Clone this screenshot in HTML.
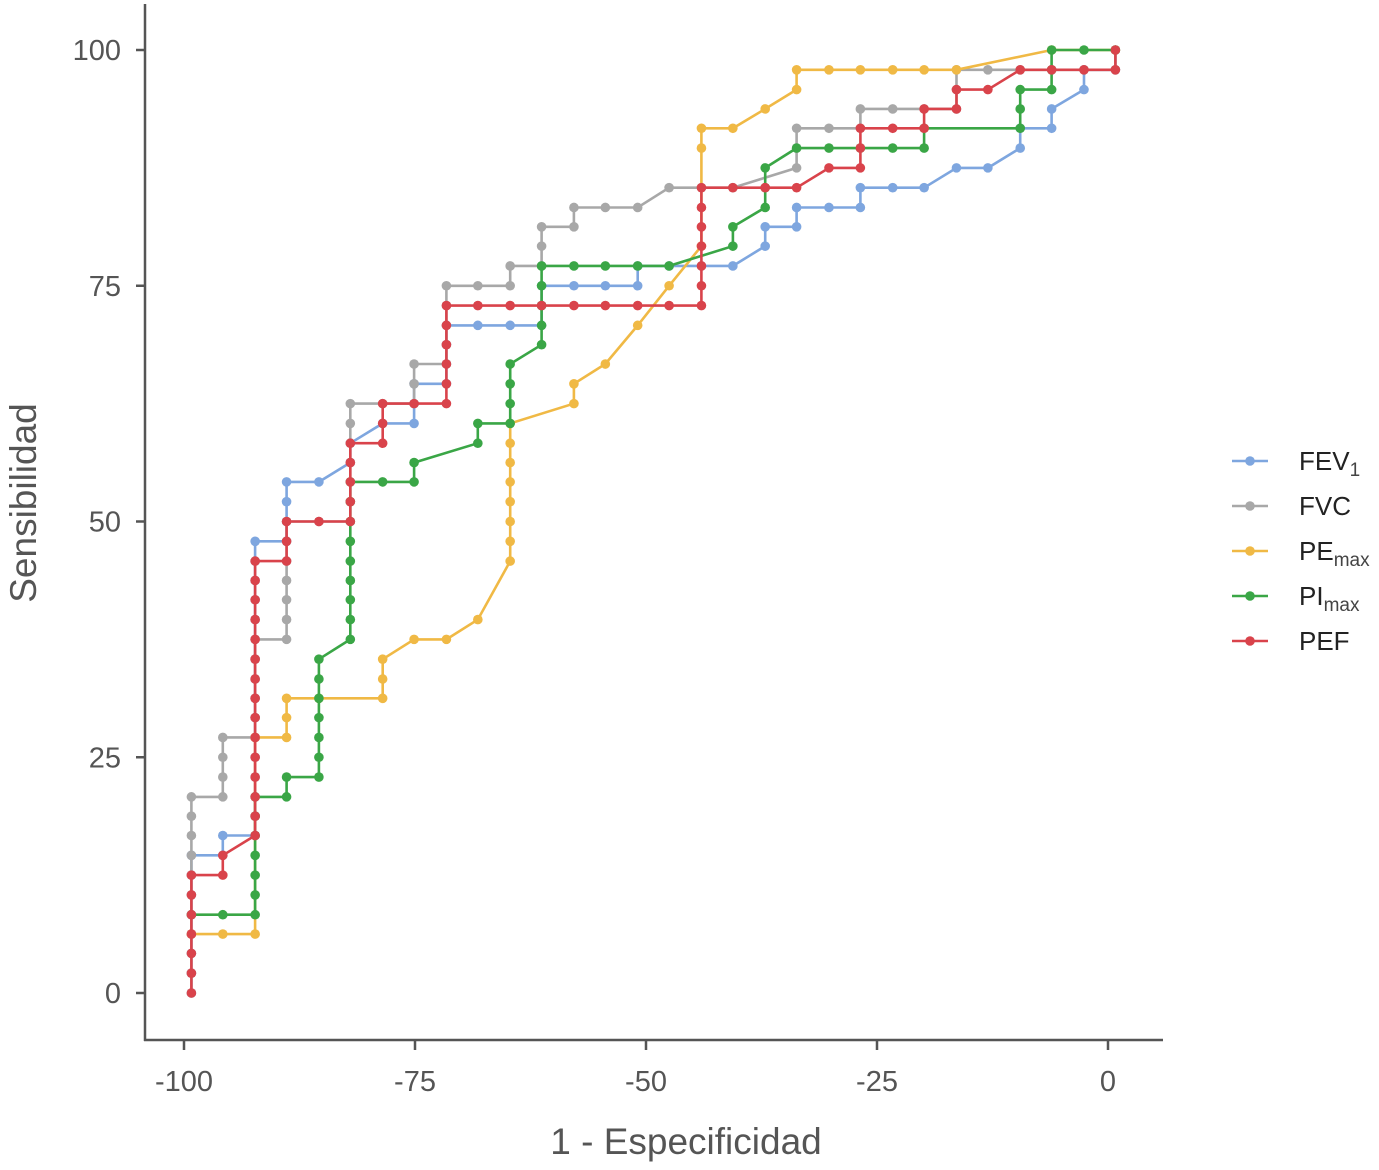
<!DOCTYPE html>
<html><head><meta charset="utf-8">
<style>
html,body{margin:0;padding:0;background:#fff;}
svg{display:block;font-family:"Liberation Sans",Arial,sans-serif;}
</style></head>
<body>
<svg id="chart" width="1379" height="1170" viewBox="0 0 1379 1170" xmlns="http://www.w3.org/2000/svg">
<g id="axes">
<line x1="145" y1="4" x2="145" y2="1041" stroke="#555" stroke-width="2.5"/>
<line x1="144" y1="1040" x2="1163" y2="1040" stroke="#555" stroke-width="2.5"/>
<text transform="translate(36,503) rotate(-90)" text-anchor="middle" font-size="37" fill="#555">Sensibilidad</text>
<text x="686" y="1154" text-anchor="middle" font-size="37" fill="#555">1 - Especificidad</text>
</g>
<g id="ticks"></g>
<g id="series"></g>
<g id="legend"></g>
</svg>
<script>
const xTicks = [-100, -75, -50, -25, 0];
const yTicks = [0, 25, 50, 75, 100];
const seriesNames = ["FEV1", "FVC", "PEmax", "PImax", "PEF"];

const fev1X = [-99.2,-99.2,-99.2,-99.2,-99.2,-99.2,-99.2,-99.2,-95.8,-95.8,-92.3,-92.3,-92.3,-92.3,-92.3,-92.3,-92.3,-92.3,-92.3,-92.3,-92.3,-92.3,-92.3,-92.3,-92.3,-92.3,-88.9,-88.9,-88.9,-88.9,-85.4,-82.0,-82.0,-78.5,-75.1,-75.1,-75.1,-71.6,-71.6,-71.6,-71.6,-68.2,-64.7,-61.3,-61.3,-61.3,-57.8,-54.4,-50.9,-50.9,-47.5,-44.0,-40.6,-37.1,-37.1,-33.7,-33.7,-30.2,-26.8,-26.8,-23.3,-19.9,-16.4,-13.0,-9.5,-9.5,-6.1,-6.1,-2.6,-2.6,0.8,0.8];
const fev1Y = [0,2.1,4.2,6.25,8.3,10.4,12.5,14.6,14.6,16.7,16.7,18.75,20.8,22.9,25,27.1,29.2,31.25,33.3,35.4,37.5,39.6,41.7,43.75,45.8,47.9,47.9,50,52.1,54.2,54.2,56.25,58.3,60.4,60.4,62.5,64.6,64.6,66.7,68.75,70.8,70.8,70.8,70.8,72.9,75,75,75,75,77.1,77.1,77.1,77.1,79.2,81.25,81.25,83.3,83.3,83.3,85.4,85.4,85.4,87.5,87.5,89.6,91.7,91.7,93.75,95.8,97.9,97.9,100];

const fvcX = [-99.2,-99.2,-99.2,-99.2,-99.2,-99.2,-99.2,-99.2,-99.2,-99.2,-99.2,-95.8,-95.8,-95.8,-95.8,-92.3,-92.3,-92.3,-92.3,-92.3,-92.3,-88.9,-88.9,-88.9,-88.9,-88.9,-88.9,-88.9,-85.4,-82.0,-82.0,-82.0,-82.0,-82.0,-82.0,-82.0,-78.5,-75.1,-75.1,-75.1,-71.6,-71.6,-71.6,-71.6,-71.6,-68.2,-64.7,-64.7,-61.3,-61.3,-61.3,-57.8,-57.8,-54.4,-50.9,-47.5,-44.0,-40.6,-33.7,-33.7,-33.7,-30.2,-26.8,-26.8,-23.3,-19.9,-16.4,-16.4,-16.4,-13.0,-9.5,-6.1,-2.6,0.8,0.8];
const fvcY = [0,2.1,4.2,6.25,8.3,10.4,12.5,14.6,16.7,18.75,20.8,20.8,22.9,25,27.1,27.1,29.2,31.25,33.3,35.4,37.5,37.5,39.6,41.7,43.75,45.8,47.9,50,50,50,52.1,54.2,56.25,58.3,60.4,62.5,62.5,62.5,64.6,66.7,66.7,68.75,70.8,72.9,75,75,75,77.1,77.1,79.2,81.25,81.25,83.3,83.3,83.3,85.4,85.4,85.4,87.5,89.6,91.7,91.7,91.7,93.75,93.75,93.75,93.75,95.8,97.9,97.9,97.9,97.9,97.9,97.9,100];

const pemaxX = [-99.2,-95.8,-92.3,-92.3,-88.9,-88.9,-88.9,-85.4,-78.5,-78.5,-78.5,-75.1,-71.6,-68.2,-64.7,-64.7,-64.7,-64.7,-64.7,-64.7,-64.7,-64.7,-57.8,-57.8,-54.4,-50.9,-47.5,-44.0,-44.0,-44.0,-40.6,-37.1,-33.7,-33.7,-30.2,-26.8,-23.3,-19.9,-16.4,-6.1,0.8];
const pemaxY = [6.25,6.25,6.25,27.1,27.1,29.2,31.25,31.25,31.25,33.3,35.4,37.5,37.5,39.6,45.8,47.9,50,52.1,54.2,56.25,58.3,60.4,62.5,64.6,66.7,70.8,75,79.2,89.6,91.7,91.7,93.75,95.8,97.9,97.9,97.9,97.9,97.9,97.9,100,100];

const pimaxX = [-99.2,-95.8,-92.3,-92.3,-92.3,-92.3,-92.3,-92.3,-92.3,-88.9,-88.9,-85.4,-85.4,-85.4,-85.4,-85.4,-85.4,-85.4,-82.0,-82.0,-82.0,-82.0,-82.0,-82.0,-82.0,-82.0,-82.0,-78.5,-75.1,-75.1,-68.2,-68.2,-64.7,-64.7,-64.7,-64.7,-61.3,-61.3,-61.3,-61.3,-61.3,-57.8,-54.4,-50.9,-47.5,-40.6,-40.6,-37.1,-37.1,-37.1,-33.7,-30.2,-26.8,-23.3,-19.9,-19.9,-9.5,-9.5,-9.5,-6.1,-6.1,-6.1,-2.6,0.8];
const pimaxY = [8.3,8.3,8.3,10.4,12.5,14.6,16.7,18.75,20.8,20.8,22.9,22.9,25,27.1,29.2,31.25,33.3,35.4,37.5,39.6,41.7,43.75,45.8,47.9,50,52.1,54.2,54.2,54.2,56.25,58.3,60.4,60.4,62.5,64.6,66.7,68.75,70.8,72.9,75,77.1,77.1,77.1,77.1,77.1,79.2,81.25,83.3,85.4,87.5,89.6,89.6,89.6,89.6,89.6,91.7,91.7,93.75,95.8,95.8,97.9,100,100,100];

const pefX = [-99.2,-99.2,-99.2,-99.2,-99.2,-99.2,-99.2,-95.8,-95.8,-92.3,-92.3,-92.3,-92.3,-92.3,-92.3,-92.3,-92.3,-92.3,-92.3,-92.3,-92.3,-92.3,-92.3,-92.3,-88.9,-88.9,-88.9,-85.4,-82.0,-82.0,-82.0,-82.0,-82.0,-78.5,-78.5,-78.5,-75.1,-71.6,-71.6,-71.6,-71.6,-71.6,-71.6,-68.2,-64.7,-61.3,-57.8,-54.4,-50.9,-47.5,-44.0,-44.0,-44.0,-44.0,-44.0,-44.0,-44.0,-40.6,-37.1,-33.7,-30.2,-26.8,-26.8,-26.8,-23.3,-19.9,-19.9,-16.4,-16.4,-13.0,-9.5,-6.1,-2.6,0.8,0.8];
const pefY = [0,2.1,4.2,6.25,8.3,10.4,12.5,12.5,14.6,16.7,18.75,20.8,22.9,25,27.1,29.2,31.25,33.3,35.4,37.5,39.6,41.7,43.75,45.8,45.8,47.9,50,50,50,52.1,54.2,56.25,58.3,58.3,60.4,62.5,62.5,62.5,64.6,66.7,68.75,70.8,72.9,72.9,72.9,72.9,72.9,72.9,72.9,72.9,72.9,75,77.1,79.2,81.25,83.3,85.4,85.4,85.4,85.4,87.5,87.5,89.6,91.7,91.7,91.7,93.75,93.75,95.8,95.8,97.9,97.9,97.9,97.9,100];

const NS = "http://www.w3.org/2000/svg";
function xS(v){ return 1108 + v * 9.24; }
function yS(v){ return 993 - v * 9.43; }

const tickG = document.getElementById('ticks');
for (const t of yTicks) {
  const l = document.createElementNS(NS,'line');
  l.setAttribute('x1',136); l.setAttribute('x2',145);
  l.setAttribute('y1',yS(t)); l.setAttribute('y2',yS(t));
  l.setAttribute('stroke','#555'); l.setAttribute('stroke-width','2.5');
  
  
  tickG.appendChild(l);
  const tx = document.createElementNS(NS,'text');
  tx.setAttribute('x',121); tx.setAttribute('y',yS(t)+10);
  tx.setAttribute('text-anchor','end'); tx.setAttribute('font-size','29'); tx.setAttribute('fill','#555');
  tx.textContent = t;
  
  
  tickG.appendChild(tx);
}
for (const t of xTicks) {
  const l = document.createElementNS(NS,'line');
  l.setAttribute('x1',xS(t)); l.setAttribute('x2',xS(t));
  l.setAttribute('y1',1040); l.setAttribute('y2',1050);
  l.setAttribute('stroke','#555'); l.setAttribute('stroke-width','2.5');
  
  
  tickG.appendChild(l);
  const tx = document.createElementNS(NS,'text');
  tx.setAttribute('x',xS(t)); tx.setAttribute('y',1091);
  tx.setAttribute('text-anchor','middle'); tx.setAttribute('font-size','29'); tx.setAttribute('fill','#555');
  tx.textContent = t;
  
  
  tickG.appendChild(tx);
}

const seriesDefs = [
  {key:'fev1', x:fev1X, y:fev1Y, color:'#7ea6df'},
  {key:'fvc', x:fvcX, y:fvcY, color:'#a8a8a8'},
  {key:'pemax', x:pemaxX, y:pemaxY, color:'#f0b945'},
  {key:'pimax', x:pimaxX, y:pimaxY, color:'#3aa646'},
  {key:'pef', x:pefX, y:pefY, color:'#d9434b'}
];
const sg = document.getElementById('series');
for (const s of seriesDefs) {
  const g = document.createElementNS(NS,'g');
  
  
  const pts = s.x.map((v,i)=> xS(v).toFixed(1)+','+yS(s.y[i]).toFixed(1)).join(' ');
  const pl = document.createElementNS(NS,'polyline');
  pl.setAttribute('points',pts); pl.setAttribute('fill','none');
  pl.setAttribute('stroke',s.color); pl.setAttribute('stroke-width','2.6');
  
  
  g.appendChild(pl);
  for (let i=0;i<s.x.length;i++){
    const c = document.createElementNS(NS,'circle');
    c.setAttribute('cx',xS(s.x[i])); c.setAttribute('cy',yS(s.y[i]));
    c.setAttribute('r','4.8'); c.setAttribute('fill',s.color);
    
    
    g.appendChild(c);
  }
  sg.appendChild(g);
}

// legend
const lg = document.getElementById('legend');
const legendLabels = [['FEV','1'],['FVC',''],['PE','max'],['PI','max'],['PEF','']];
seriesDefs.forEach((s,i)=>{
  const yy = 461 + i*45;
  const g = document.createElementNS(NS,'g');
  
  
  const l = document.createElementNS(NS,'line');
  l.setAttribute('x1',1232); l.setAttribute('x2',1268); l.setAttribute('y1',yy); l.setAttribute('y2',yy);
  l.setAttribute('stroke',s.color); l.setAttribute('stroke-width','2.6');
  g.appendChild(l);
  const c = document.createElementNS(NS,'circle');
  c.setAttribute('cx',1250); c.setAttribute('cy',yy); c.setAttribute('r','4.8'); c.setAttribute('fill',s.color);
  g.appendChild(c);
  const t = document.createElementNS(NS,'text');
  t.setAttribute('x',1299); t.setAttribute('y',yy+9); t.setAttribute('font-size','26'); t.setAttribute('fill','#222');
  t.textContent = legendLabels[i][0];
  if (legendLabels[i][1]) {
    const ts = document.createElementNS(NS,'tspan');
    ts.setAttribute('font-size','19'); ts.setAttribute('dy','6'); ts.setAttribute('fill','#444');
    ts.textContent = legendLabels[i][1];
    t.appendChild(ts);
  }
  g.appendChild(t);
  lg.appendChild(g);
});
</script>
</body></html>
